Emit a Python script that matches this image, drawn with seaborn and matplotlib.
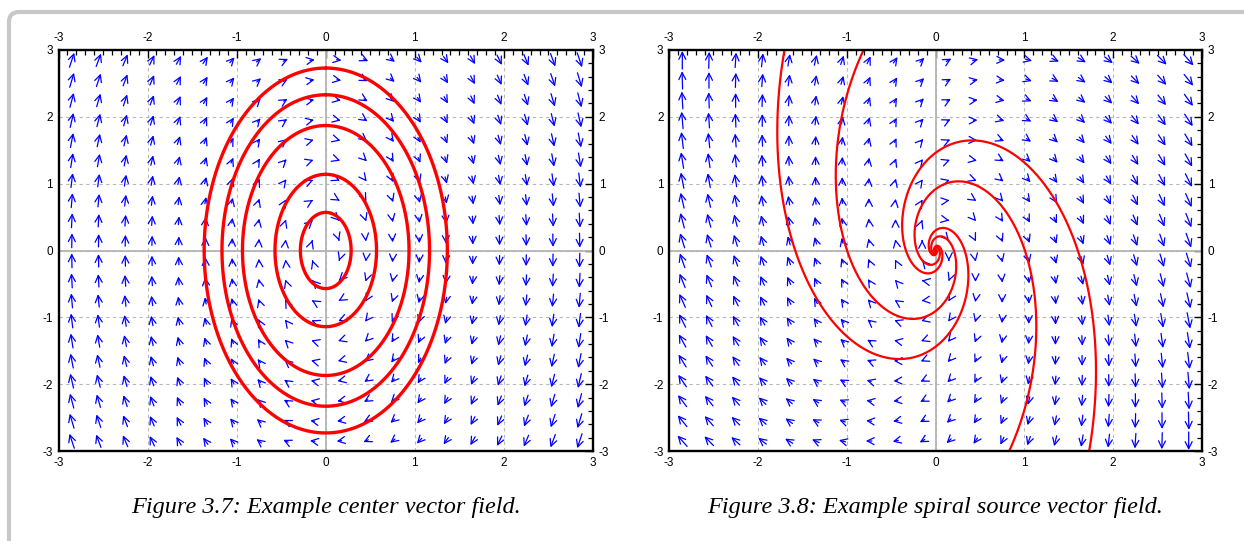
import numpy as np
import pandas as pd
import matplotlib
matplotlib.use("Agg")
import matplotlib.pyplot as plt
import seaborn as sns
from matplotlib.patches import FancyArrowPatch, FancyBboxPatch
from matplotlib.ticker import MultipleLocator

# ---------------- data ----------------
# linear systems  x' = A x
center_matrix = [[0.0, 1.0], [-4.0, 0.0]]
spiral_matrix = [[1.0, 1.0], [-4.0, 1.0]]

# vector-field sample positions (same on both axes)
grid_coords = [-2.85, -2.55, -2.25, -1.95, -1.65, -1.35, -1.05, -0.75, -0.45, -0.15,
               0.15, 0.45, 0.75, 1.05, 1.35, 1.65, 1.95, 2.25, 2.55, 2.85]
arrow_scale = 0.019

# center trajectories: start points (0, y0) on the y axis
center_starts_y = [0.57, 1.14, 1.87, 2.33, 2.73]
# spiral trajectories: start points on the frame edge
spiral_starts_x = [-1.70, -0.81, 1.73, 0.83]
spiral_starts_y = [3.0, 3.0, -3.0, -3.0]

tick_values = [-3, -2, -1, 0, 1, 2, 3]
captions = ["Figure 3.7: Example center vector field.",
            "Figure 3.8: Example spiral source vector field."]


# ---------------- helpers ----------------
def rk4(A, p0, t_end, n):
    A = np.asarray(A)
    p = np.array(p0, dtype=float)
    dt = t_end / n
    pts = [p.copy()]
    f = lambda q: A @ q
    for _ in range(n):
        k1 = f(p)
        k2 = f(p + dt / 2 * k1)
        k3 = f(p + dt / 2 * k2)
        k4 = f(p + dt * k3)
        p = p + dt / 6 * (k1 + 2 * k2 + 2 * k3 + k4)
        pts.append(p.copy())
    return np.array(pts)


def draw_field(ax, A):
    A = np.asarray(A)
    for gx in grid_coords:
        for gy in grid_coords:
            v = A @ np.array([gx, gy]) * arrow_scale
            tail = (gx - v[0] / 2, gy - v[1] / 2)
            head = (gx + v[0] / 2, gy + v[1] / 2)
            arr = FancyArrowPatch(tail, head, arrowstyle="->,head_length=0.5,head_width=0.25",
                                  mutation_scale=10, color="#0000ff", lw=0.9,
                                  shrinkA=0, shrinkB=0, zorder=3)
            ax.add_patch(arr)


def style_axes(ax):
    ax.set_xlim(-3, 3)
    ax.set_ylim(-3, 3)
    ax.set_xticks(tick_values)
    ax.set_yticks(tick_values)
    ax.set_xticklabels([str(t) for t in tick_values])
    ax.set_yticklabels([str(t) for t in tick_values])
    ax.xaxis.set_minor_locator(MultipleLocator(0.1))
    ax.yaxis.set_minor_locator(MultipleLocator(0.2))
    ax.tick_params(which="both", direction="in", top=True, right=True,
                   labeltop=True, labelright=True, colors="black",
                   labelsize=8.5, pad=4)
    ax.tick_params(which="major", length=6, width=1)
    ax.tick_params(which="minor", length=3.5, width=0.9)
    for lab in ax.get_xticklabels() + ax.get_yticklabels():
        lab.set_family("Liberation Sans")
    ax.grid(True, which="major", color="#b8b8b8", lw=0.8, ls=(0, (3, 3)), zorder=0)
    ax.axhline(0, color="#b4b4b4", lw=1.3, zorder=1)
    ax.axvline(0, color="#b4b4b4", lw=1.3, zorder=1)
    for s in ax.spines.values():
        s.set_visible(True)
        s.set_color("black")
        s.set_linewidth(1.7)
        s.set_zorder(5)
    ax.set_xlabel("")
    ax.set_ylabel("")
    ax.set_facecolor("white")


# ---------------- figure ----------------
sns.set_theme(style="white")
plt.rcParams["font.family"] = ["Liberation Sans", "DejaVu Sans"]
plt.rcParams["axes.unicode_minus"] = False

W, H = 1244, 541
fig = plt.figure(figsize=(W / 100, H / 100), dpi=100)
fig.patch.set_facecolor("white")

ax1 = fig.add_axes([58.5 / W, (H - 451) / H, 534.5 / W, 401 / H])
ax2 = fig.add_axes([669 / W, (H - 451) / H, 533 / W, 401 / H])

# left: center
draw_field(ax1, center_matrix)
rows = []
for i, y0 in enumerate(center_starts_y):
    tr = rk4(center_matrix, (0.0, y0), np.pi, 600)
    rows.append(pd.DataFrame({"x": tr[:, 0], "y": tr[:, 1], "curve": i}))
df1 = pd.concat(rows)
sns.lineplot(data=df1, x="x", y="y", units="curve", estimator=None, sort=False,
             color="#ff0000", lw=2.4, ax=ax1, zorder=4, legend=False)
style_axes(ax1)

# right: spiral source
draw_field(ax2, spiral_matrix)
rows = []
for i, (x0, y0) in enumerate(zip(spiral_starts_x, spiral_starts_y)):
    tr = rk4(spiral_matrix, (x0, y0), -6.0, 1500)
    rows.append(pd.DataFrame({"x": tr[:, 0], "y": tr[:, 1], "curve": i}))
df2 = pd.concat(rows)
sns.lineplot(data=df2, x="x", y="y", units="curve", estimator=None, sort=False,
             color="#ff0000", lw=1.6, ax=ax2, zorder=4, legend=False)
style_axes(ax2)

# captions
fig.text((58.5 + 593) / 2 / W, (H - 508) / H, captions[0], ha="center", va="center",
         family="Liberation Serif", style="italic", fontsize=17.5, color="black")
fig.text((669 + 1202) / 2 / W, (H - 508) / H, captions[1], ha="center", va="center",
         family="Liberation Serif", style="italic", fontsize=17.5, color="black")

# page frame (partially visible)
frame = FancyBboxPatch((0.09, -0.5), 14.0, 5.29 + 0.5,
                       boxstyle="round,pad=0,rounding_size=0.1",
                       transform=fig.dpi_scale_trans, fill=False,
                       ec="#c8c8c8", lw=3)
fig.patches.append(frame)

fig.savefig("out.png", dpi=100)
